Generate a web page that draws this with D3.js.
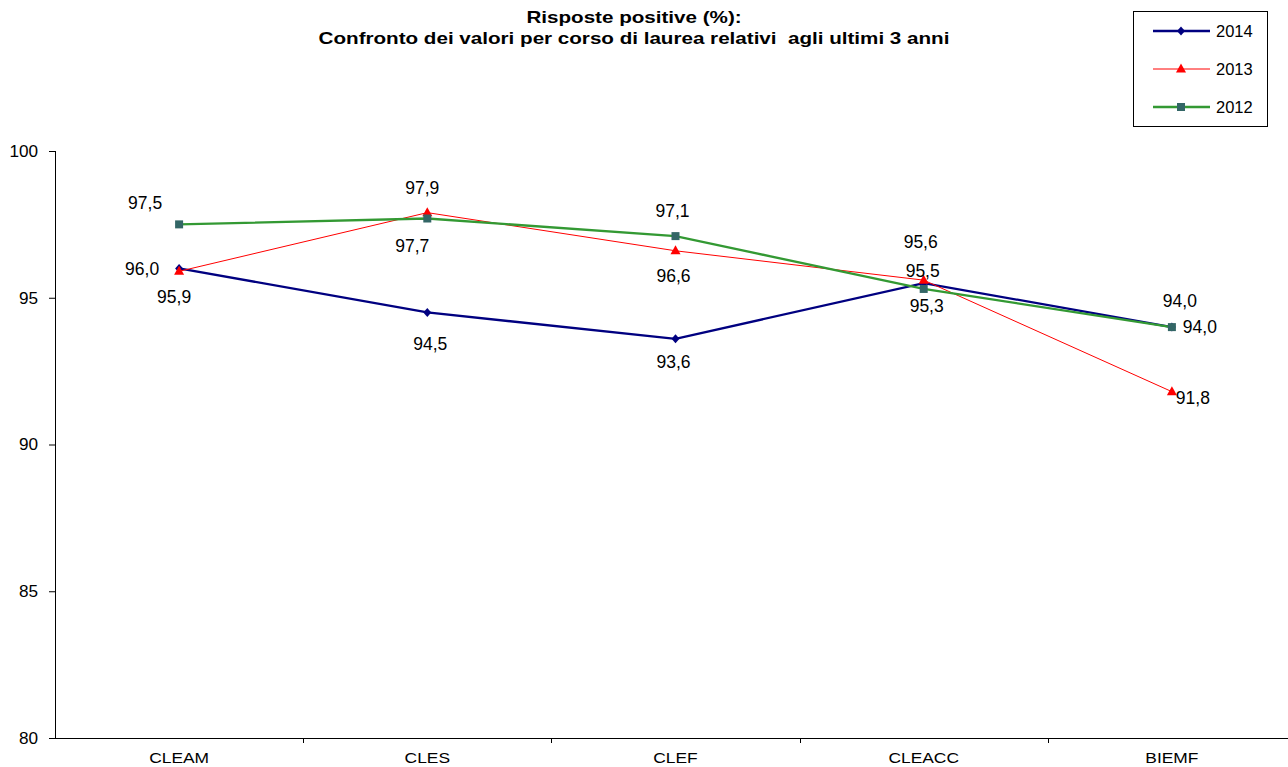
<!DOCTYPE html>
<html><head><meta charset="utf-8">
<script src="https://cdn.jsdelivr.net/npm/d3@7"></script>
<style>
body{margin:0;background:#fff;}
svg{display:block;font-family:"Liberation Sans",Arial,sans-serif;}
</style></head>
<body>
<svg id="chart" width="1288" height="767"></svg>
<script>
const categories = ["CLEAM","CLES","CLEF","CLEACC","BIEMF"];
const years = ["2014","2013","2012"];
const values2014 = [96.0, 94.5, 93.6, 95.5, 94.0];
const values2013 = [95.9, 97.9, 96.6, 95.6, 91.8];
const values2012 = [97.5, 97.7, 97.1, 95.3, 94.0];
const yTicks = [80, 85, 90, 95, 100];
const titleLines = ["Risposte positive (%):", "Confronto dei valori per corso di laurea relativi  agli ultimi 3 anni"];

// label nudges (style, not data): [dx, dy] from the point to the label centre
const labelNudge = {
  "2014": [[-37,0],[3,31],[-2,23],[-1,-12],[8,-26]],
  "2013": [[-5,26],[-5,-25],[-2,25],[-3,-38],[21,6]],
  "2012": [[-34,-22],[-15,27],[-3,-25],[3,17],[28,0]]
};

const series = [
  {name:"2014", values:values2014, line:"#000080", width:2.3, marker:"diamond", fill:"#000080"},
  {name:"2013", values:values2013, line:"#ff0000", width:1, marker:"triangle", fill:"#ff0000"},
  {name:"2012", values:values2012, line:"#339933", width:2.3, marker:"square", fill:"#336666"}
];

const svg = d3.select("#chart");
const x = d3.scaleBand().domain(categories).range([55, 1296]);
const y = d3.scaleLinear().domain([80, 100]).range([738, 151]);
const cx = c => x(c) + x.bandwidth()/2;

function stretchedText(sel, fx, fy, sx) {
  return sel.attr("x", 0).attr("y", 0)
    .attr("transform", (d,i) => `translate(${fx(d,i)},${fy(d,i)}) scale(${sx},1)`);
}

// title
stretchedText(svg.append("g").selectAll("text").data(titleLines).join("text"),
  () => 634, (d,i) => 23 + i*21, 1.25)
  .attr("text-anchor","middle").attr("font-weight","bold").attr("font-size",16.5)
  .style("white-space","pre").text(d => d);

// y axis
const yAxis = svg.append("g").attr("transform","translate(55,0)")
  .call(d3.axisLeft(y).tickValues(yTicks).tickSize(6).tickFormat(""));
yAxis.select(".domain").attr("d","M0.5,151V738");
stretchedText(svg.append("g").selectAll("text").data(yTicks).join("text"),
  () => 38, d => y(d), 1.04)
  .attr("dy","0.35em").attr("text-anchor","end").attr("font-size",16.5).text(d => d);

// x axis
const xAxis = svg.append("g").attr("transform","translate(0,738)");
xAxis.append("line").attr("x1",55).attr("x2",1288).attr("y1",0.5).attr("y2",0.5).attr("stroke","#000");
xAxis.selectAll("line.tk").data(categories.slice(1)).join("line").attr("class","tk")
  .attr("x1", d => Math.round(x(d))+0.5).attr("x2", d => Math.round(x(d))+0.5)
  .attr("y1",0).attr("y2",5).attr("stroke","#000");
stretchedText(xAxis.selectAll("text").data(categories).join("text"),
  d => cx(d), () => 20, 1.2)
  .attr("dy","0.35em").attr("text-anchor","middle").attr("font-size",14.5).text(d => d);

function drawMarker(g, type, fill, px, py) {
  if (type === "diamond") {
    g.append("path").attr("d", `M${px},${py-4.5}L${px+4},${py}L${px},${py+4.5}L${px-4},${py}Z`).attr("fill", fill);
  } else if (type === "triangle") {
    g.append("path").attr("d", `M${px},${py-5.5}L${px+5},${py+3.5}L${px-5},${py+3.5}Z`).attr("fill", fill);
  } else {
    g.append("rect").attr("x", px-4).attr("y", py-4).attr("width",8).attr("height",8).attr("fill", fill);
  }
}

const line = d3.line().x((d,i) => cx(categories[i])).y(d => y(d));
series.forEach(s => {
  const g = svg.append("g");
  g.append("path").datum(s.values).attr("d", line).attr("fill","none")
    .attr("stroke", s.line).attr("stroke-width", s.width);
  s.values.forEach((v,i) => drawMarker(g, s.marker, s.fill, cx(categories[i]), y(v)));
});
series.forEach(s => {
  svg.append("g").selectAll("text").data(s.values).join("text")
    .attr("x", (d,i) => cx(categories[i]) + labelNudge[s.name][i][0])
    .attr("y", (d,i) => y(d) + labelNudge[s.name][i][1])
    .attr("dy","0.35em").attr("text-anchor","middle").attr("font-size",17.5)
    .text(d => d3.format(".1f")(d).replace(".", ","));
});

// legend
const lg = svg.append("g");
lg.append("rect").attr("x",1133.5).attr("y",11.5).attr("width",134).attr("height",115)
  .attr("fill","#fff").attr("stroke","#000");
series.forEach((s,i) => {
  const ly = 31 + i*38;
  lg.append("line").attr("x1",1153).attr("x2",1210).attr("y1",ly).attr("y2",ly)
    .attr("stroke", s.line).attr("stroke-width", s.width);
  drawMarker(lg, s.marker, s.fill, 1181, ly);
  lg.append("text").attr("x",1216).attr("y",ly)
    .attr("dy","0.35em").attr("font-size",16.5).text(s.name);
});
</script>
</body></html>
